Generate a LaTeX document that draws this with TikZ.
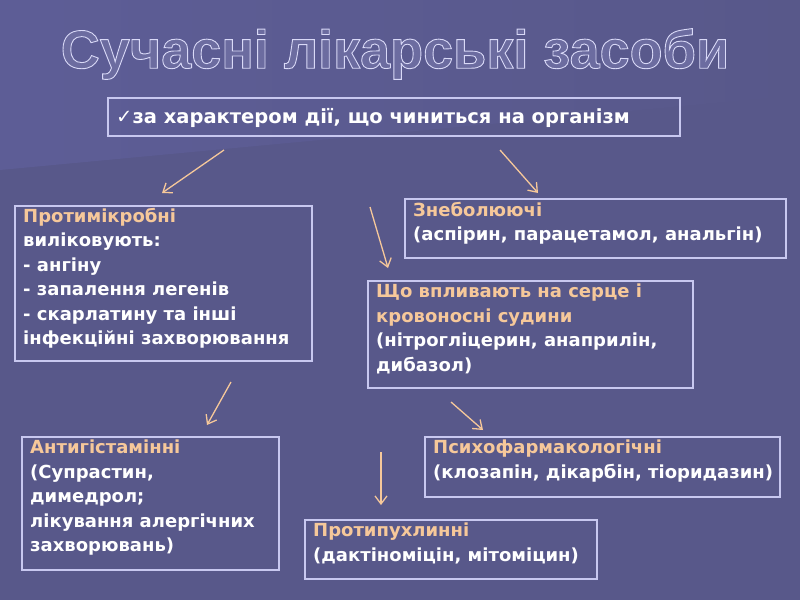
\documentclass[tikz,border=0pt]{standalone}
\usepackage{fontspec}
\setmainfont{DejaVu Sans}
\newfontfamily\titlefont{Liberation Sans}
\usetikzlibrary{arrows.meta}
\definecolor{bgdark}{HTML}{58588A}
\definecolor{bglight}{HTML}{6C6CA0}
\definecolor{frame}{HTML}{C8C8F0}
\definecolor{peach}{HTML}{F6C89A}
\tikzset{
  box/.style={anchor=north west,align=left,inner sep=0pt,
    font=\bfseries\fontsize{18}{24.5}\selectfont,text=white},
  frm/.style={draw=frame,line width=2pt},
  arr/.style={draw=peach,line width=1.3pt,-{Straight Barb[length=8pt,width=12pt]}},
}
\newcommand{\hd}[1]{\textcolor{peach}{#1}}
\begin{document}
\begin{tikzpicture}[x=1pt,y=1pt]
\useasboundingbox (0,0) rectangle (800,-600);
\fill[bgdark] (0,0) rectangle (800,-600);
\shade[left color=bglight!110,right color=bgdark] (0,0) -- (800,0) -- (800,-95) -- (0,-170) -- cycle;
\node[font=\titlefont\bfseries\fontsize{54}{58}\selectfont,text=bglight] (title) at (395,-54)
  {\special{pdf:code 2 Tr 0.9 w 0.85 0.85 0.97 RG}Сучасні лікарські засоби\special{pdf:code 0 Tr}};
\draw[frm] (108,-98) rectangle (680,-136);
\node[box,font=\bfseries\fontsize{19.5}{22}\selectfont,anchor=west] (top) at (116,-118) {✓за характером дії, що чиниться на організм};
\draw[frm] (15,-206) rectangle (312,-361);
\node[box] (anti) at (23,-208)
  {\hd{Протимікробні}\\виліковують:\\- ангіну\\- запалення легенів\\- скарлатину та інші\\інфекційні захворювання};
\draw[frm] (405,-199) rectangle (786,-258);
\node[box] (pain) at (413,-202)
  {\hd{Знеболюючі}\\(аспірин, парацетамол, анальгін)};
\draw[frm] (368,-281) rectangle (693,-388);
\node[box] (heart) at (376,-284)
  {\hd{Що впливають на серце і}\\\hd{кровоносні судини}\\(нітрогліцерин, анаприлін,\\дибазол)};
\draw[frm] (22,-437) rectangle (279,-570);
\node[box] (hist) at (30,-440)
  {\hd{Антигістамінні}\\(Супрастин,\\димедрол;\\лікування алергічних\\захворювань)};
\draw[frm] (425,-437) rectangle (780,-497);
\node[box] (psy) at (433,-440)
  {\hd{Психофармакологічні}\\(клозапін, дікарбін, тіоридазин)};
\draw[frm] (305,-520) rectangle (597,-579);
\node[box] (tum) at (313,-523)
  {\hd{Протипухлинні}\\(дактіноміцін, мітоміцин)};
\coordinate (a1) at (224,-150); \coordinate (b1) at (162,-193);
\coordinate (a2) at (500,-150); \coordinate (b2) at (538,-193);
\coordinate (a3) at (370,-207); \coordinate (b3) at (388,-268);
\coordinate (a4) at (231,-382); \coordinate (b4) at (207,-425);
\coordinate (a5) at (451,-402); \coordinate (b5) at (483,-430);
\coordinate (a6) at (381,-452); \coordinate (b6) at (381,-505);
\foreach \i in {1,...,6} \draw[arr] (a\i) -- (b\i);
\end{tikzpicture}
\end{document}
